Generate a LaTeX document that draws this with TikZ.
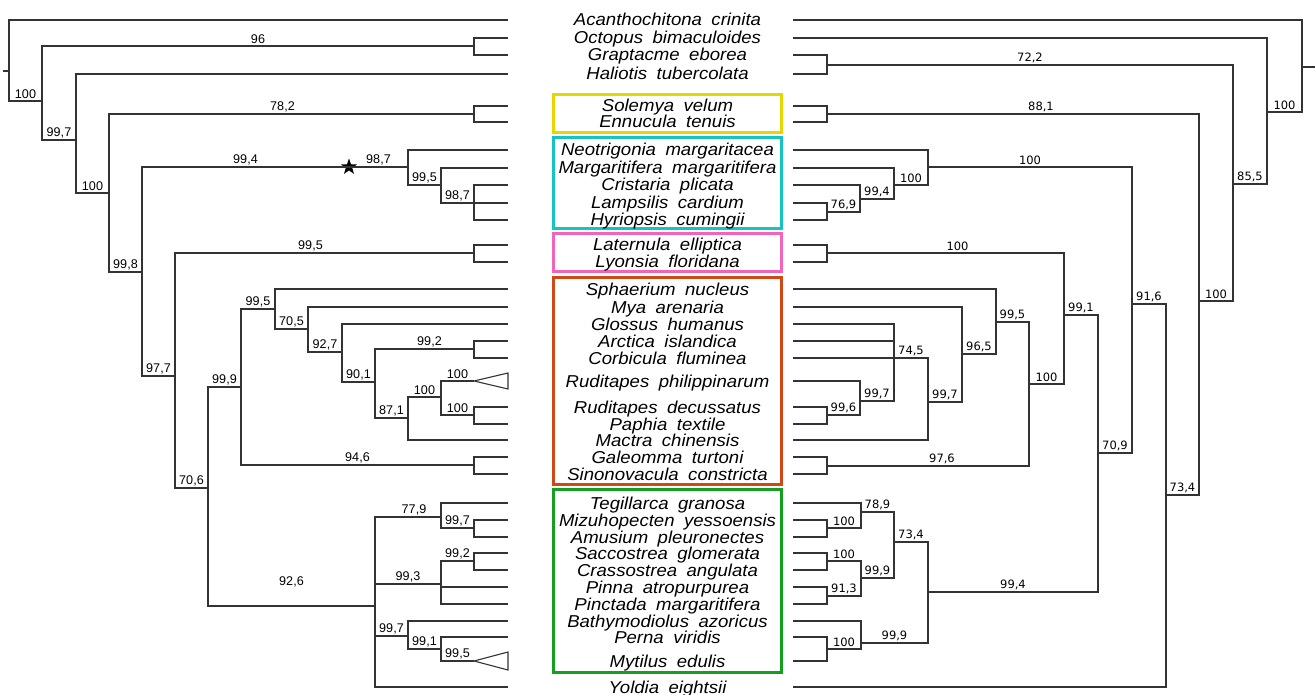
\documentclass[tikz,border=0pt]{standalone}
\usepackage{fontspec}
\usetikzlibrary{shapes.geometric}
\newfontfamily\taxonfont[FakeStretch=1.08]{Liberation Sans}
\newfontfamily\leftnum{Liberation Sans}
\newfontfamily\rightnum{DejaVu Sans}
\newcommand{\tgap}{\hspace{0.55em}}
\definecolor{cladeyellow}{RGB}{232,214,0}
\definecolor{cladecyan}{RGB}{20,196,196}
\definecolor{cladepink}{RGB}{240,100,190}
\definecolor{cladeorange}{RGB}{208,72,20}
\definecolor{cladegreen}{RGB}{20,160,30}

\begin{document}
\begin{tikzpicture}[x=1pt, y=-1pt,
    branch/.style={line width=1.1pt, draw=black!80},
    lbs/.style={above, pos=.75, inner sep=1.6pt, font=\leftnum\fontsize{12.6}{13}\selectfont},
    rbs/.style={above, pos=.75, inner sep=1.6pt, font=\rightnum\fontsize{11.5}{12}\selectfont},
    taxon/.style={anchor=base, yshift=-6pt, inner sep=0pt,
      font=\taxonfont\itshape\fontsize{17.2}{17}\selectfont},
    clade/.style={line width=3pt},
    bstar/.style={star, star points=5, star point ratio=2.5, fill=black, inner sep=0pt, minimum size=17pt}]
  \useasboundingbox (0,0) rectangle (1315,695);

  % Clade boxes
  \draw[clade, cladeyellow] (553.5,94.5) rectangle (781,133);
  \draw[clade, cladecyan]   (553.5,138) rectangle (781,229);
  \draw[clade, cladepink]   (553.5,234) rectangle (781,272);
  \draw[clade, cladeorange] (553.5,278) rectangle (781,484);
  \draw[clade, cladegreen]  (553.5,489) rectangle (781,672);

  % Taxa (name in the middle, tip on each side)
  \path (508,20) coordinate (lacan) (793,20) coordinate (racan) (667.5,20) node[taxon] (acan) {Acanthochitona\tgap crinita};
  \path (508,38) coordinate (locto) (793,38) coordinate (rocto) (667.5,38) node[taxon] (octo) {Octopus\tgap bimaculoides};
  \path (508,55) coordinate (lgrap) (793,55) coordinate (rgrap) (667.5,55) node[taxon] (grap) {Graptacme\tgap eborea};
  \path (508,74) coordinate (lhali) (793,74) coordinate (rhali) (667.5,74) node[taxon] (hali) {Haliotis\tgap tubercolata};
  \path (508,106) coordinate (lsole) (793,106) coordinate (rsole) (667.5,106) node[taxon] (sole) {Solemya\tgap velum};
  \path (508,122) coordinate (lennu) (793,122) coordinate (rennu) (667.5,122) node[taxon] (ennu) {Ennucula\tgap tenuis};
  \path (508,150) coordinate (lneot) (793,150) coordinate (rneot) (667.5,150) node[taxon] (neot) {Neotrigonia\tgap margaritacea};
  \path (508,168) coordinate (lmarg) (793,168) coordinate (rmarg) (667.5,168) node[taxon] (marg) {Margaritifera\tgap margaritifera};
  \path (508,185) coordinate (lcris) (793,185) coordinate (rcris) (667.5,185) node[taxon] (cris) {Cristaria\tgap plicata};
  \path (508,203) coordinate (llamp) (793,203) coordinate (rlamp) (667.5,203) node[taxon] (lamp) {Lampsilis\tgap cardium};
  \path (508,220) coordinate (lhyri) (793,220) coordinate (rhyri) (667.5,220) node[taxon] (hyri) {Hyriopsis\tgap cumingii};
  \path (508,245) coordinate (llate) (793,245) coordinate (rlate) (667.5,245) node[taxon] (late) {Laternula\tgap elliptica};
  \path (508,262) coordinate (llyon) (793,262) coordinate (rlyon) (667.5,262) node[taxon] (lyon) {Lyonsia\tgap floridana};
  \path (508,289) coordinate (lspha) (793,289) coordinate (rspha) (667.5,289) node[taxon] (spha) {Sphaerium\tgap nucleus};
  \path (508,307) coordinate (lmyaa) (793,307) coordinate (rmyaa) (667.5,307) node[taxon] (myaa) {Mya\tgap arenaria};
  \path (508,324) coordinate (lglos) (793,324) coordinate (rglos) (667.5,324) node[taxon] (glos) {Glossus\tgap humanus};
  \path (508,341) coordinate (larct) (793,341) coordinate (rarct) (667.5,341) node[taxon] (arct) {Arctica\tgap islandica};
  \path (508,358) coordinate (lcorb) (793,358) coordinate (rcorb) (667.5,358) node[taxon] (corb) {Corbicula\tgap fluminea};
  \path (508,381) coordinate (lrphi) (793,381) coordinate (rrphi) (667.5,381) node[taxon] (rphi) {Ruditapes\tgap philippinarum};
  \path (508,407) coordinate (lrdec) (793,407) coordinate (rrdec) (667.5,407) node[taxon] (rdec) {Ruditapes\tgap decussatus};
  \path (508,424) coordinate (lpaph) (793,424) coordinate (rpaph) (667.5,424) node[taxon] (paph) {Paphia\tgap textile};
  \path (508,440) coordinate (lmact) (793,440) coordinate (rmact) (667.5,440) node[taxon] (mact) {Mactra\tgap chinensis};
  \path (508,457) coordinate (lgale) (793,457) coordinate (rgale) (667.5,457) node[taxon] (gale) {Galeomma\tgap turtoni};
  \path (508,474) coordinate (lsino) (793,474) coordinate (rsino) (667.5,474) node[taxon] (sino) {Sinonovacula\tgap constricta};
  \path (508,503) coordinate (ltegi) (793,503) coordinate (rtegi) (667.5,503) node[taxon] (tegi) {Tegillarca\tgap granosa};
  \path (508,520) coordinate (lmizu) (793,520) coordinate (rmizu) (667.5,520) node[taxon] (mizu) {Mizuhopecten\tgap yessoensis};
  \path (508,537) coordinate (lamus) (793,537) coordinate (ramus) (667.5,537) node[taxon] (amus) {Amusium\tgap pleuronectes};
  \path (508,553) coordinate (lsacc) (793,553) coordinate (rsacc) (667.5,553) node[taxon] (sacc) {Saccostrea\tgap glomerata};
  \path (508,570) coordinate (lcras) (793,570) coordinate (rcras) (667.5,570) node[taxon] (cras) {Crassostrea\tgap angulata};
  \path (508,587) coordinate (lpinn) (793,587) coordinate (rpinn) (667.5,587) node[taxon] (pinn) {Pinna\tgap atropurpurea};
  \path (508,604) coordinate (lpinc) (793,604) coordinate (rpinc) (667.5,604) node[taxon] (pinc) {Pinctada\tgap margaritifera};
  \path (508,621) coordinate (lbath) (793,621) coordinate (rbath) (667.5,621) node[taxon] (bath) {Bathymodiolus\tgap azoricus};
  \path (508,637) coordinate (lpern) (793,637) coordinate (rpern) (667.5,637) node[taxon] (pern) {Perna\tgap viridis};
  \path (508,661) coordinate (lmyti) (793,661) coordinate (rmyti) (667.5,661) node[taxon] (myti) {Mytilus\tgap edulis};
  \path (508,687) coordinate (lyold) (793,687) coordinate (ryold) (667.5,687) node[taxon] (yold) {Yoldia\tgap eightsii};

  % Left tree: internal nodes
  \coordinate (Lstub) at (3,71);
  \coordinate (L0)  at (9,71);
  \coordinate (L1)  at (42,101);
  \coordinate (L2)  at (474,46);
  \coordinate (L3)  at (76,140);
  \coordinate (L4)  at (109,193);
  \coordinate (L5)  at (474,114);
  \coordinate (L6)  at (142,272);
  \coordinate (L7)  at (408,167);
  \coordinate (L8)  at (175,376);
  \coordinate (L9)  at (441,185);
  \coordinate (L10) at (474,203);
  \coordinate (L11) at (474,253);
  \coordinate (L12) at (208,488);
  \coordinate (L13) at (241,387);
  \coordinate (L14) at (375,606);
  \coordinate (L15) at (275,309);
  \coordinate (L16) at (474,465);
  \coordinate (L17) at (308,329);
  \coordinate (L18) at (342,352);
  \coordinate (L19) at (375,382);
  \coordinate (L20) at (474,349);
  \coordinate (L21) at (408,418);
  \coordinate (L22) at (441,397);
  \coordinate (L23) at (474,381);
  \coordinate (L24) at (474,415);
  \coordinate (L25) at (441,517);
  \coordinate (L26) at (441,584);
  \coordinate (L27) at (408,636);
  \coordinate (L28) at (474,528);
  \coordinate (L29) at (474,561);
  \coordinate (L30) at (441,649);
  \coordinate (L31) at (474,661);
  \node[bstar] (unio) at (349,167) {};

  % Left tree: branches
  \draw[branch] (Lstub) -- (L0) (L0) |- (lacan);
  \draw[branch] (L0) |- node[lbs]{100} (L1);
  \draw[branch] (L1) |- node[lbs]{96} (L2);
  \draw[branch] (L2) |- (locto) (L2) |- (lgrap);
  \draw[branch] (L1) |- node[lbs]{99,7} (L3);
  \draw[branch] (L3) |- (lhali);
  \draw[branch] (L3) |- node[lbs]{100} (L4);
  \draw[branch] (L4) |- node[lbs, xshift=-9pt]{78,2} (L5);
  \draw[branch] (L5) |- (lsole) (L5) |- (lennu);
  \draw[branch] (L4) |- node[lbs]{99,8} (L6);
  \draw[branch] (L6) |- node[lbs]{99,4} (unio.center) -- node[lbs, pos=.5]{98,7} (L7);
  \draw[branch] (L7) |- (lneot);
  \draw[branch] (L7) |- node[lbs]{99,5} (L9);
  \draw[branch] (L9) |- (lmarg);
  \draw[branch] (L9) |- node[lbs]{98,7} (L10);
  \draw[branch] (L10) |- (lcris) (L10) |- (llamp) (L10) |- (lhyri);
  \draw[branch] (L6) |- node[lbs]{97,7} (L8);
  \draw[branch] (L8) |- node[lbs, xshift=-14pt]{99,5} (L11);
  \draw[branch] (L11) |- (llate) (L11) |- (llyon);
  \draw[branch] (L8) |- node[lbs]{70,6} (L12);
  \draw[branch] (L12) |- node[lbs]{99,9} (L13);
  \draw[branch] (L12) |- node[lbs, yshift=17pt]{92,6} (L14);
  \draw[branch] (L13) |- node[lbs]{99,5} (L15);
  \draw[branch] (L13) |- node[lbs]{94,6} (L16);
  \draw[branch] (L16) |- (lgale) (L16) |- (lsino);
  \draw[branch] (L15) |- (lspha);
  \draw[branch] (L15) |- node[lbs]{70,5} (L17);
  \draw[branch] (L17) |- (lmyaa);
  \draw[branch] (L17) |- node[lbs]{92,7} (L18);
  \draw[branch] (L18) |- (lglos);
  \draw[branch] (L18) |- node[lbs]{90,1} (L19);
  \draw[branch] (L19) |- node[lbs, xshift=5pt]{99,2} (L20);
  \draw[branch] (L20) |- (larct) (L20) |- (lcorb);
  \draw[branch] (L19) |- node[lbs]{87,1} (L21);
  \draw[branch] (L21) |- node[lbs]{100} (L22);
  \draw[branch] (L21) |- (lmact);
  \draw[branch] (L22) |- node[lbs]{100} (L23);
  \draw[branch] (L23) -- ++(34,-8) -- ++(0,16) -- cycle;
  \draw[branch] (L22) |- node[lbs]{100} (L24);
  \draw[branch] (L24) |- (lrdec) (L24) |- (lpaph);
  \draw[branch] (L14) |- node[lbs, xshift=6pt]{77,9} (L25);
  \draw[branch] (L25) |- (ltegi);
  \draw[branch] (L25) |- node[lbs]{99,7} (L28);
  \draw[branch] (L28) |- (lmizu) (L28) |- (lamus);
  \draw[branch] (L14) |- node[lbs]{99,3} (L26);
  \draw[branch] (L26) |- node[lbs]{99,2} (L29);
  \draw[branch] (L29) |- (lsacc) (L29) |- (lcras);
  \draw[branch] (L26) |- (lpinn) (L26) |- (lpinc);
  \draw[branch] (L14) |- node[lbs]{99,7} (L27);
  \draw[branch] (L27) |- (lbath);
  \draw[branch] (L27) |- node[lbs]{99,1} (L30);
  \draw[branch] (L30) |- (lpern);
  \draw[branch] (L30) |- node[lbs]{99,5} (L31);
  \draw[branch] (L31) -- ++(34,-9) -- ++(0,18) -- cycle;
  \draw[branch] (L14) |- (lyold);

  % Right tree: internal nodes
  \coordinate (Rstub) at (1315,67);
  \coordinate (R0)  at (1302,67);
  \coordinate (R1)  at (1267,112);
  \coordinate (R2)  at (1233,184);
  \coordinate (R3)  at (827,65);
  \coordinate (R4)  at (1199,301);
  \coordinate (R5)  at (827,114);
  \coordinate (R6)  at (1166,495);
  \coordinate (R7)  at (1132,304);
  \coordinate (R8)  at (928,167);
  \coordinate (R9)  at (1098,453);
  \coordinate (R10) at (894,185);
  \coordinate (R11) at (1064,315);
  \coordinate (R12) at (928,592);
  \coordinate (R13) at (860,199);
  \coordinate (R14) at (827,212);
  \coordinate (R15) at (827,253);
  \coordinate (R16) at (1029,384);
  \coordinate (R17) at (996,322);
  \coordinate (R18) at (827,466);
  \coordinate (R19) at (962,354);
  \coordinate (R20) at (928,402);
  \coordinate (R21) at (894,358);
  \coordinate (R22) at (860,401);
  \coordinate (R23) at (827,415);
  \coordinate (R24) at (894,542);
  \coordinate (R25) at (861,643);
  \coordinate (R26) at (861,512);
  \coordinate (R27) at (861,578);
  \coordinate (R28) at (827,528);
  \coordinate (R29) at (827,561);
  \coordinate (R30) at (827,596);
  \coordinate (R31) at (827,649);

  % Right tree: branches
  \draw[branch] (Rstub) -- (R0) (R0) |- (racan);
  \draw[branch] (R0) |- node[rbs]{100} (R1);
  \draw[branch] (R1) |- (rocto);
  \draw[branch] (R1) |- node[rbs]{85,5} (R2);
  \draw[branch] (R2) |- node[rbs]{72,2} (R3);
  \draw[branch] (R3) |- (rgrap) (R3) |- (rhali);
  \draw[branch] (R2) |- node[rbs]{100} (R4);
  \draw[branch] (R4) |- node[rbs, xshift=28pt]{88,1} (R5);
  \draw[branch] (R5) |- (rsole) (R5) |- (rennu);
  \draw[branch] (R4) |- node[rbs]{73,4} (R6);
  \draw[branch] (R6) |- (ryold);
  \draw[branch] (R6) |- node[rbs]{91,6} (R7);
  \draw[branch] (R7) |- node[rbs]{100} (R8);
  \draw[branch] (R8) |- (rneot);
  \draw[branch] (R8) |- node[rbs]{100} (R10);
  \draw[branch] (R10) |- (rmarg);
  \draw[branch] (R10) |- node[rbs]{99,4} (R13);
  \draw[branch] (R13) |- (rcris);
  \draw[branch] (R13) |- node[rbs]{76,9} (R14);
  \draw[branch] (R14) |- (rlamp) (R14) |- (rhyri);
  \draw[branch] (R7) |- node[rbs]{70,9} (R9);
  \draw[branch] (R9) |- node[rbs]{99,1} (R11);
  \draw[branch] (R11) |- node[rbs, xshift=12pt]{100} (R15);
  \draw[branch] (R15) |- (rlate) (R15) |- (rlyon);
  \draw[branch] (R11) |- node[rbs]{100} (R16);
  \draw[branch] (R16) |- node[rbs]{99,5} (R17);
  \draw[branch] (R16) |- node[rbs, xshift=14pt]{97,6} (R18);
  \draw[branch] (R18) |- (rgale) (R18) |- (rsino);
  \draw[branch] (R17) |- (rspha);
  \draw[branch] (R17) |- node[rbs]{96,5} (R19);
  \draw[branch] (R19) |- (rmyaa);
  \draw[branch] (R19) |- node[rbs]{99,7} (R20);
  \draw[branch] (R20) |- node[rbs]{74,5} (R21);
  \draw[branch] (R20) |- (rmact);
  \draw[branch] (R21) |- (rglos) (R21) |- (rarct) (R21) |- (rcorb);
  \draw[branch] (R21) |- node[rbs]{99,7} (R22);
  \draw[branch] (R22) |- (rrphi);
  \draw[branch] (R22) |- node[rbs]{99,6} (R23);
  \draw[branch] (R23) |- (rrdec) (R23) |- (rpaph);
  \draw[branch] (R9) |- node[rbs]{99,4} (R12);
  \draw[branch] (R12) |- node[rbs]{73,4} (R24);
  \draw[branch] (R12) |- node[rbs]{99,9} (R25);
  \draw[branch] (R24) |- node[rbs]{78,9} (R26);
  \draw[branch] (R24) |- node[rbs]{99,9} (R27);
  \draw[branch] (R26) |- (rtegi);
  \draw[branch] (R26) |- node[rbs]{100} (R28);
  \draw[branch] (R28) |- (rmizu) (R28) |- (ramus);
  \draw[branch] (R27) |- node[rbs]{100} (R29);
  \draw[branch] (R29) |- (rsacc) (R29) |- (rcras);
  \draw[branch] (R27) |- node[rbs]{91,3} (R30);
  \draw[branch] (R30) |- (rpinn) (R30) |- (rpinc);
  \draw[branch] (R25) |- (rbath);
  \draw[branch] (R25) |- node[rbs]{100} (R31);
  \draw[branch] (R31) |- (rpern) (R31) |- (rmyti);
\end{tikzpicture}
\end{document}
